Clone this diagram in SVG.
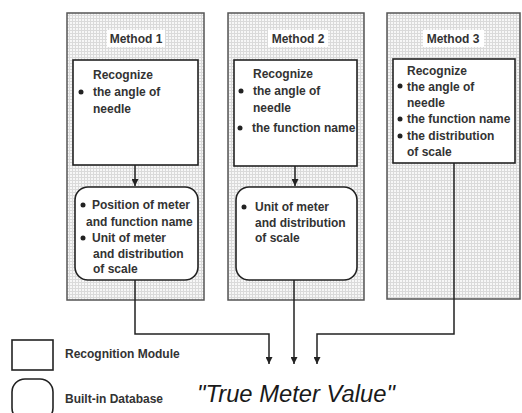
<svg xmlns="http://www.w3.org/2000/svg" width="522" height="413" viewBox="0 0 522 413">
<defs>
<pattern id="dots" x="0" y="0" width="3" height="3" patternUnits="userSpaceOnUse">
<rect width="3" height="3" fill="#f7f7f7"/>
<rect width="3" height="1" fill="#dadada"/>
<rect width="1" height="3" fill="#dadada"/>
</pattern>
<marker id="arrd" viewBox="0 0 8 8" refX="8" refY="4" markerWidth="7" markerHeight="7" markerUnits="userSpaceOnUse" orient="auto">
<path d="M0,0 L8,4 L0,8 z" fill="#222"/>
</marker>
</defs>
<style>
.panel{fill:url(#dots);stroke:#555;stroke-width:1.5}
.box{fill:#fff;stroke:#222;stroke-width:1.6}
.t{font-family:"Liberation Sans",Arial,sans-serif;font-weight:bold;font-size:12px;fill:#333}
.ttl{fill:#fff}
.b{fill:#222}
.c{fill:none;stroke:#222;stroke-width:1.5}
.big{font-family:"Liberation Sans",Arial,sans-serif;font-style:italic;font-size:23.5px;fill:#1a1a1a}
</style>
<g id="method1">
<rect class="panel" x="67" y="13" width="137" height="287"/>
<rect class="ttl" x="107" y="30" width="58" height="17"/>
<text class="t" x="136" y="43" text-anchor="middle">Method 1</text>
<g id="m1-recog">
<rect class="box" x="73" y="60" width="125" height="105"/>
<text class="t" x="93" y="79">Recognize</text>
<circle class="b" cx="81" cy="92" r="2.5"/>
<text class="t" x="93" y="96">the angle of</text>
<text class="t" x="93" y="113">needle</text>
</g>
<g id="m1-db">
<rect class="box" x="75" y="187" width="123" height="93" rx="13"/>
<circle class="b" cx="83" cy="205" r="2.5"/>
<text class="t" x="92" y="209">Position of meter</text>
<text class="t" x="86" y="226">and function name</text>
<circle class="b" cx="83" cy="238" r="2.5"/>
<text class="t" x="92" y="242">Unit of meter</text>
<text class="t" x="93" y="258">and distribution</text>
<text class="t" x="93" y="273">of scale</text>
</g>
</g>
<g id="method2">
<rect class="panel" x="228" y="13" width="136" height="287"/>
<rect class="ttl" x="268" y="30" width="60" height="17"/>
<text class="t" x="298" y="43" text-anchor="middle">Method 2</text>
<g id="m2-recog">
<rect class="box" x="234" y="60" width="123" height="106"/>
<text class="t" x="253" y="78">Recognize</text>
<circle class="b" cx="241" cy="91" r="2.5"/>
<text class="t" x="253" y="95">the angle of</text>
<text class="t" x="253" y="112">needle</text>
<circle class="b" cx="240" cy="128" r="2.5"/>
<text class="t" x="252" y="132">the function name</text>
</g>
<g id="m2-db">
<rect class="box" x="236" y="187" width="121" height="93" rx="13"/>
<circle class="b" cx="244" cy="207" r="2.5"/>
<text class="t" x="255" y="211">Unit of meter</text>
<text class="t" x="255" y="227">and distribution</text>
<text class="t" x="255" y="242">of scale</text>
</g>
</g>
<g id="method3">
<rect class="panel" x="387" y="13" width="133" height="286"/>
<rect class="ttl" x="423" y="30" width="61" height="17"/>
<text class="t" x="453" y="43" text-anchor="middle">Method 3</text>
<g id="m3-recog">
<rect class="box" x="393" y="59" width="122" height="104"/>
<text class="t" x="407" y="75">Recognize</text>
<circle class="b" cx="400" cy="86" r="2.5"/>
<text class="t" x="407" y="91">the angle of</text>
<text class="t" x="407" y="107">needle</text>
<circle class="b" cx="400" cy="119" r="2.5"/>
<text class="t" x="407" y="123">the function name</text>
<circle class="b" cx="400" cy="136" r="2.5"/>
<text class="t" x="407" y="140">the distribution</text>
<text class="t" x="407" y="156">of scale</text>
</g>
</g>
<g id="connectors">
<path class="c" d="M135,165 V186" marker-end="url(#arrd)"/>
<path class="c" d="M295,166 V186" marker-end="url(#arrd)"/>
<path class="c" d="M135,280 V334 H269 V364" marker-end="url(#arrd)"/>
<path class="c" d="M294,280 V364" marker-end="url(#arrd)"/>
<path class="c" d="M454,163 V334 H317 V364" marker-end="url(#arrd)"/>
</g>
<g id="legend-recognition">
<rect class="box" x="12" y="340" width="41" height="30"/>
<text class="t" x="65" y="358">Recognition Module</text>
</g>
<g id="legend-database">
<rect class="box" x="12" y="379" width="41" height="42" rx="13"/>
<text class="t" x="65" y="403">Built-in Database</text>
</g>
<g id="result">
<text class="big" x="197" y="402" textLength="198" lengthAdjust="spacingAndGlyphs">"True Meter Value"</text>
</g>
</svg>
